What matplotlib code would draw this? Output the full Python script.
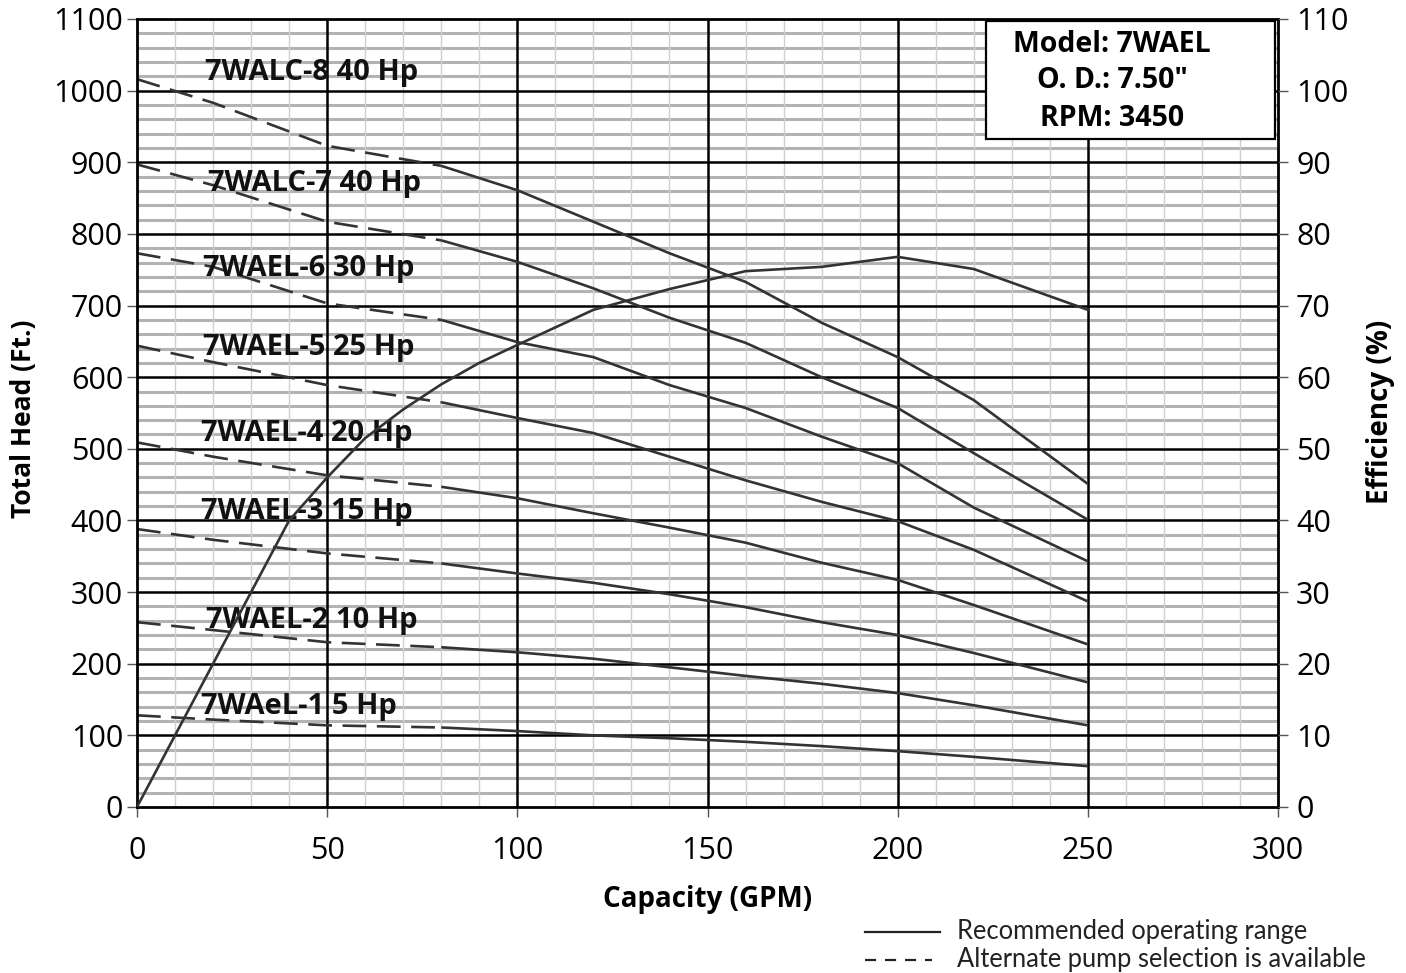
import matplotlib
matplotlib.use("Agg")
import matplotlib.pyplot as plt
from matplotlib.lines import Line2D
import numpy as np

plt.rcParams['font.family'] = ['Open Sans', 'DejaVu Sans']

# ---- data ----
flow = [0, 20, 50, 80, 100, 120, 140, 160, 180, 200, 220, 250]
dash_end = 80  # dashed (alternate selection) up to this flow

curve_names = ["7WALC-8 40 Hp", "7WALC-7 40 Hp", "7WAEL-6 30 Hp", "7WAEL-5 25 Hp",
               "7WAEL-4 20 Hp", "7WAEL-3 15 Hp", "7WAEL-2 10 Hp", "7WAeL-1 5 Hp"]
head_8 = [1016, 983, 923, 895, 861, 817, 773, 733, 676, 628, 568, 451]
head_7 = [897, 868, 817, 791, 761, 724, 683, 648, 600, 557, 494, 401]
head_6 = [773, 754, 703, 680, 649, 628, 589, 557, 517, 480, 418, 343]
head_5 = [644, 621, 589, 565, 543, 522, 489, 456, 426, 399, 359, 287]
head_4 = [509, 489, 463, 447, 431, 410, 390, 369, 341, 317, 282, 227]
head_3 = [388, 373, 354, 340, 326, 313, 297, 279, 258, 240, 215, 174]
head_2 = [258, 247, 230, 223, 216, 207, 195, 183, 172, 159, 142, 114]
head_1 = [128, 122, 114, 111, 106, 100, 96, 91, 85, 78, 70, 57]
heads = [head_8, head_7, head_6, head_5, head_4, head_3, head_2, head_1]
label_pos = [(17.9, 1025), (18.7, 870), (17.4, 752), (17.4, 642),
             (16.8, 522), (16.8, 413), (18.1, 261), (16.8, 140)]

eff_flow = [0, 40, 50, 60, 70, 80, 90, 100, 120, 140, 160, 180, 200, 220, 250]
eff = [0, 40, 46, 51.5, 55.5, 59, 62, 64.5, 69.4, 72.3, 74.8, 75.4, 76.8, 75.1, 69.4]

x_ticks = [0, 50, 100, 150, 200, 250, 300]
y_ticks = list(range(0, 1101, 100))
eff_ticks = list(range(0, 111, 10))

# ---- figure ----
W, H = 1406, 973
fig = plt.figure(figsize=(W / 100, H / 100), dpi=100)
ax = fig.add_axes([137 / W, 1 - 807 / H, (1278 - 137) / W, (807 - 19) / H])

ax.set_xlim(0, 300)
ax.set_ylim(0, 1100)

# grid
for yv in range(20, 1100, 20):
    if yv % 100:
        ax.axhline(yv, color='#b3b3b3', lw=2.2, zorder=1)
for xv in range(10, 300, 10):
    if xv % 50:
        ax.axvline(xv, color='#cfcfcf', lw=1.0, zorder=1)
for yv in y_ticks[1:-1]:
    ax.axhline(yv, color='black', lw=1.8, zorder=2)
for xv in x_ticks[1:-1]:
    ax.axvline(xv, color='black', lw=1.8, zorder=2)

lc = '#333333'
lw = 1.9
fl = np.array(flow)
for name, h, (lx, ly) in zip(curve_names, heads, label_pos):
    h = np.array(h)
    m1 = fl <= dash_end
    m2 = fl >= dash_end
    ax.plot(fl[m1], h[m1], color=lc, lw=lw, dashes=(9, 4), zorder=4)
    ax.plot(fl[m2], h[m2], color=lc, lw=lw, zorder=4, solid_capstyle='butt')
    ax.text(lx, ly, name, fontsize=21, fontweight='bold', ha='left', va='center',
            color='#111111', zorder=5)

for s in ax.spines.values():
    s.set_linewidth(2.0)
    s.set_zorder(6)

ax.set_xticks(x_ticks)
ax.set_yticks(y_ticks)
ax.tick_params(axis='both', labelsize=22, length=7, width=1.0, color='#555555')
ax.tick_params(axis='x', pad=14)
ax.tick_params(axis='y', pad=3)
ax.text(0.5, -0.118, "Capacity (GPM)", transform=ax.transAxes, fontsize=20,
        fontweight='bold', ha='center', va='center')
ax.text(-0.0999, 0.492, "Total Head (Ft.)", transform=ax.transAxes, fontsize=19,
        fontweight='bold', ha='center', va='center', rotation=90)

ax2 = ax.twinx()
ax2.set_ylim(0, 110)
ax2.set_yticks(eff_ticks)
ax2.tick_params(axis='y', labelsize=22, length=7, width=1.0, color='#555555', pad=6)
ax2.plot(eff_flow, eff, color=lc, lw=lw, zorder=4)
ax2.text(1.0894, 0.501, "Efficiency (%)", transform=ax.transAxes, fontsize=20,
         fontweight='bold', ha='center', va='center', rotation=90)
for s in ax2.spines.values():
    s.set_visible(False)

# info box
bx0, bx1 = 986 / W, 1275 / W
by0, by1 = 1 - 139 / H, 1 - 21 / H
fig.patches.append(plt.Rectangle((bx0, by0), bx1 - bx0, by1 - by0, transform=fig.transFigure,
                                 facecolor='white', edgecolor='black', lw=1.6, zorder=10))
info = ["Model: 7WAEL", "O. D.: 7.50\"", "RPM: 3450"]
for t, yp in zip(info, [45, 81, 118]):
    fig.text(1112 / W, 1 - yp / H, t, fontsize=20.5, fontweight='bold', ha='center',
             va='center', zorder=11)

# legend at bottom
fig.add_artist(Line2D([865 / W, 940 / W], [1 - 932 / H, 1 - 932 / H], color='#222222', lw=1.6))
fig.add_artist(Line2D([865 / W, 932 / W], [1 - 960 / H, 1 - 960 / H], color='#222222', lw=1.6,
                      dashes=(5, 4)))
fig.text(957 / W, 1 - 931 / H, "Recommended operating range", fontsize=18.4, ha='left',
         va='center', color='#222222', family=['Lato', 'DejaVu Sans'])
fig.text(957 / W, 1 - 959 / H, "Alternate pump selection is available", fontsize=18.4,
         ha='left', va='center', color='#222222', family=['Lato', 'DejaVu Sans'])

fig.savefig("out.png", dpi=100, facecolor='white')
